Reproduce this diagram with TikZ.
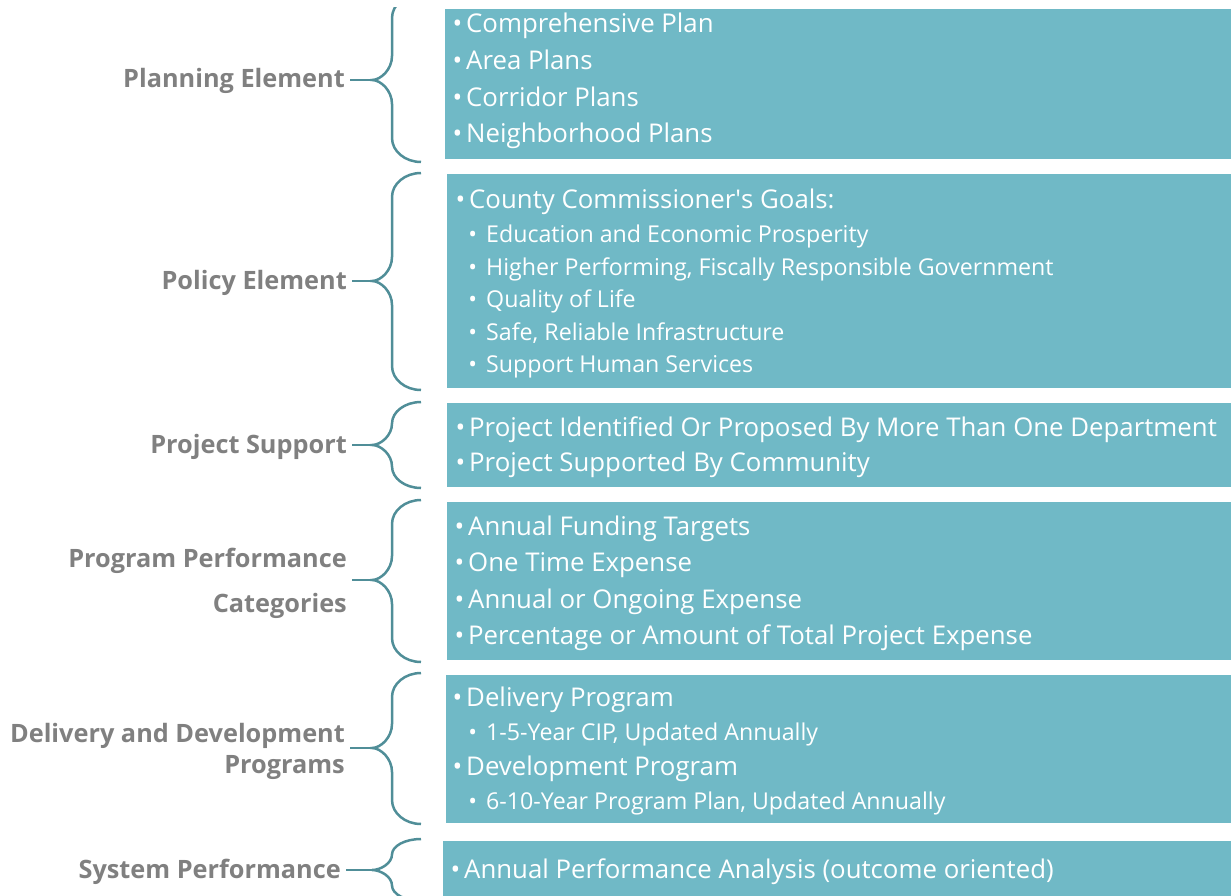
\documentclass[tikz,border=0pt]{standalone}
\usepackage{fontspec}
\setmainfont{Open Sans}
\usepackage{xcolor}
\definecolor{boxfill}{RGB}{112,185,198}
\definecolor{bracecol}{RGB}{80,142,152}
\definecolor{lblgray}{RGB}{128,128,128}
\newcommand\bul{\llap{\textbullet\hspace{4pt}}}
\newcommand\subbul{\llap{\textbullet\hspace{9pt}}}
\newcommand\drawbrace[4]{%
  \coordinate (#1) at (372,#3);
  \pgfmathsetmacro\ra{min(24,(#3-(#2))/2)}
  \pgfmathsetmacro\rb{min(24,(#4-#3)/2)}
  \draw[curl] (421,#2) .. controls (405,#2) and (392,#2+0.45*\ra) .. (392,#2+\ra)
    -- (392,#3-\ra) .. controls (392,#3-0.45*\ra) and (381,#3) .. (372,#3)
    .. controls (381,#3) and (392,#3+0.45*\rb) .. (392,#3+\rb)
    -- (392,#4-\rb) .. controls (392,#4-0.45*\rb) and (405,#4) .. (421,#4);}

\begin{document}
\begin{tikzpicture}[x=1pt,y=-1pt]
      \tikzstyle{box}=[rectangle,fill=boxfill,anchor=north west,inner sep=0]
      \tikzstyle{itm}=[anchor=base west,inner sep=0,text=white,font=\fontsize{25.8}{30}\selectfont]
      \tikzstyle{subitm}=[itm,font=\fontsize{23.2}{27}\selectfont]
      \tikzstyle{lbl}=[anchor=base east,inner xsep=5pt,inner ysep=0,text=lblgray,font=\bfseries\fontsize{25.3}{30}\selectfont]
      \tikzstyle{curl}=[draw=bracecol,line width=2.5pt]
      \useasboundingbox (0,0) rectangle (1231,896);
      % boxes
      \node (plan) [box,minimum width=786pt,minimum height=150pt] at (445,9) {};
      \node (policy) [box,minimum width=784pt,minimum height=214pt] at (447,174) {};
      \node (support) [box,minimum width=784pt,minimum height=84pt] at (447,403) {};
      \node (categ) [box,minimum width=784pt,minimum height=158pt] at (447,502) {};
      \node (deliv) [box,minimum width=785pt,minimum height=148pt] at (446,675) {};
      \node (system) [box,minimum width=788pt,minimum height=60pt] at (443,841) {};
      % items
      \node (plan1) [itm] at (466,33) {\bul Comprehensive Plan};
      \node (plan2) [itm] at (466,70) {\bul Area Plans};
      \node (plan3) [itm] at (466,107) {\bul Corridor Plans};
      \node (plan4) [itm] at (466,143) {\bul Neighborhood Plans};
      \node (goals) [itm] at (469,208) {\bul County Commissioner\textquotesingle s Goals:};
      \node (goal1) [subitm] at (486,242) {\subbul Education and Economic Prosperity};
      \node (goal2) [subitm] at (486,275) {\subbul Higher Performing, Fiscally Responsible Government};
      \node (goal3) [subitm] at (486,307) {\subbul Quality of Life};
      \node (goal4) [subitm] at (486,340) {\subbul Safe, Reliable Infrastructure};
      \node (goal5) [subitm] at (486,372) {\subbul Support Human Services};
      \node (supp1) [itm] at (469,436) {\bul Project Identified Or Proposed By More Than One Department};
      \node (supp2) [itm] at (469,471) {\bul Project Supported By Community};
      \node (cat1) [itm] at (468,535) {\bul Annual Funding Targets};
      \node (cat2) [itm] at (468,571) {\bul One Time Expense};
      \node (cat3) [itm] at (468,608) {\bul Annual or Ongoing Expense};
      \node (cat4) [itm] at (468,644) {\bul Percentage or Amount of Total Project Expense};
      \node (del1) [itm] at (466,706) {\bul Delivery Program};
      \node (del2) [subitm] at (486,740) {\subbul 1-5-Year CIP, Updated Annually};
      \node (del3) [itm] at (466,775) {\bul Development Program};
      \node (del4) [subitm] at (486,809) {\subbul 6-10-Year Program Plan, Updated Annually};
      \node (sys1) [itm] at (464,878) {\bul Annual Performance Analysis (outcome oriented)};
      % labels
      \node (planlbl) [lbl] at (350,88) {Planning Element};
      \node (policylbl) [lbl] at (352,289) {Policy Element};
      \node (supportlbl) [lbl] at (352,453) {Project Support};
      \node (categlbl) [lbl] at (352,567) {Program Performance};
      \node (categlbl2) [lbl] at (352,612) {Categories};
      \node (delivlbl) [lbl] at (350,742) {Delivery and Development};
      \node (delivlbl2) [lbl] at (350,773) {Programs};
      \node (systemlbl) [lbl] at (346,878) {System Performance};
      % braces
      \begin{scope}
        \clip (300,8) rectangle (440,200);
        \drawbrace{plantip}{-6}{80}{162}
      \end{scope}
      \drawbrace{policytip}{173}{281}{390}
      \drawbrace{supporttip}{402}{445}{488}
      \drawbrace{categtip}{500}{580}{662}
      \drawbrace{delivtip}{673}{748}{824}
      \drawbrace{systemtip}{839}{870}{901}
      \draw[curl] (planlbl.east |- plantip) -- (plantip);
      \draw[curl] (policylbl.east |- policytip) -- (policytip);
      \draw[curl] (supportlbl.east |- supporttip) -- (supporttip);
      \draw[curl] (categlbl.east |- categtip) -- (categtip);
      \draw[curl] (delivlbl.east |- delivtip) -- (delivtip);
      \draw[curl] (systemlbl.east |- systemtip) -- (systemtip);
\end{tikzpicture}
\end{document}
